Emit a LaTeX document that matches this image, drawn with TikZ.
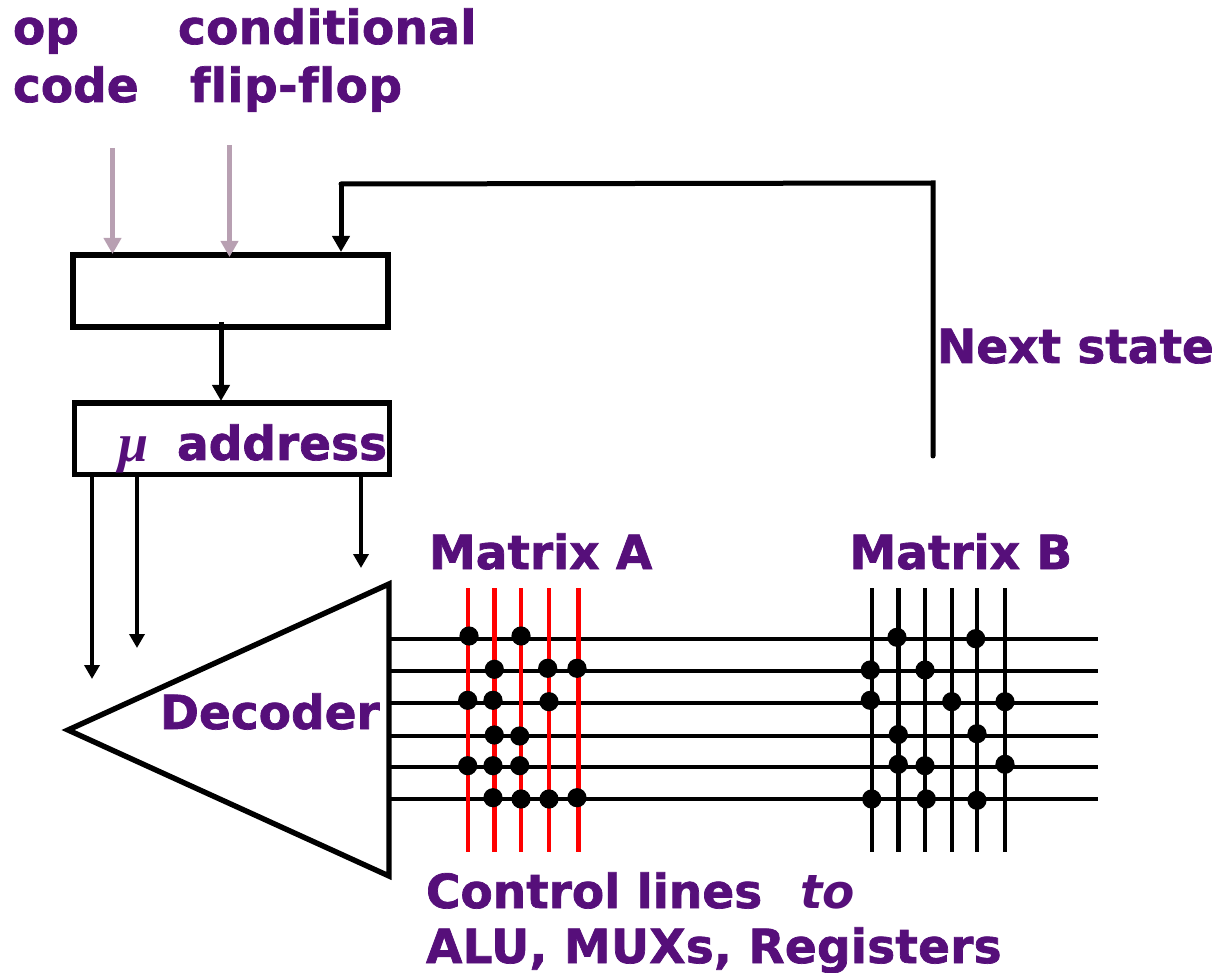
\documentclass[tikz,border=0pt]{standalone}
\usepackage{fontspec}
\setmainfont{DejaVu Sans}[Ligatures=NoCommon,BoldFeatures={FakeBold=1.5}]
\newfontfamily\mufont{Liberation Serif}
\usetikzlibrary{arrows.meta}
\definecolor{txtpurple}{HTML}{560F7A}
\definecolor{pinkline}{HTML}{B8A0B2}
\tikzset{
  lbl/.style={anchor=base west,inner sep=0pt,outer sep=0pt,text=txtpurple,font=\fontsize{47}{47}\selectfont\bfseries},
  boxn/.style={draw=black,line width=5.2pt,inner sep=0pt,outer sep=0pt,anchor=north west},
  heavy/.style={line width=5pt,draw=black},
  thinarrow/.style={line width=4pt,draw=black,-{Triangle[length=14pt,width=15pt]}},
  heavyarrow/.style={heavy,-{Triangle[length=16pt,width=17pt]}},
  pinkarrow/.style={line width=5.4pt,draw=pinkline,-{Triangle[length=16pt,width=17pt]}},
  ctl/.style={line width=4.4pt,draw=black},
  redcol/.style={line width=4.4pt,draw=red},
  blackcol/.style={line width=4.4pt,draw=black},
  dotm/.style={fill=black}
}
\begin{document}
\begin{tikzpicture}[x=1pt,y=-1pt]
\useasboundingbox (0,0) rectangle (1219,973);
% boxes
\node[boxn,minimum width=315pt,minimum height=72pt] (reg) at (73,255) {};
\node[boxn,minimum width=315pt,minimum height=71.5pt] (uaddr) at (74.5,403) {};
% triangle
\coordinate (tritop) at (389,584);
\coordinate (tribot) at (389,876);
\coordinate (trileft) at (68,730);
\draw[line width=5.4pt,line join=miter] (tritop) -- (tribot) -- (trileft) -- cycle;
% input arrows
\coordinate (opS) at (112.5,148); \coordinate (opE) at (112.5,254);
\coordinate (ffS) at (229.5,145); \coordinate (ffE) at (229.5,257);
\draw[pinkarrow] (opS) -- (opE);
\draw[pinkarrow] (ffS) -- (ffE);
% feedback
\coordinate (nsS) at (933,456);
\coordinate (nsC) at (933,183);
\coordinate (nsD) at (341,184);
\coordinate (nsE) at (341,252);
\draw[heavy,line cap=round] (nsS) -- (nsC) -- (nsD);
\draw[heavyarrow] (nsD) -- (nsE);
% reg to address
\coordinate (rmS) at (221,322); \coordinate (rmE) at (221,401);
\draw[heavyarrow] (rmS) -- (rmE);
% address to decoder
\coordinate (a1S) at (92,476); \coordinate (a1E) at (92,679);
\coordinate (a2S) at (137,476); \coordinate (a2E) at (137,648);
\coordinate (a3S) at (361,476); \coordinate (a3E) at (361,568);
\draw[thinarrow] (a1S) -- (a1E);
\draw[thinarrow] (a2S) -- (a2E);
\draw[thinarrow] (a3S) -- (a3E);
% control lines
\foreach \y in {639,670.7,703,736,767,799}{
  \draw[ctl] (390,\y) -- (1098,\y);
}
% matrix columns
\foreach \x in {467.7,494.3,521,549,578.3}{
  \draw[redcol] (\x,588) -- (\x,852);
}
\foreach \x in {871.7,898.3,925,951.7,977,1005}{
  \draw[blackcol] (\x,588) -- (\x,852);
}
% dots
\foreach \x/\y in {469/636,521/636,494.3/669.3,547.7/668.3,577/668.3,467.7/700.3,493/700.3,549/701.7,494.3/735,519.7/736,467.7/765.7,493/765.7,519.7/765.7,493/797.7,521/799,549/799,577/797.7,
897/637.3,975.7/638.7,870.3/670,925/670,870.3/700.3,951.7/701.7,1005/701.7,898.3/734.5,977/733.7,898.3/764.3,925/765.7,1005/764.3,871.7/799,926.3/799,977/800.3}{
  \fill[dotm] (\x,\y) circle (9.6pt);
}
% texts
\node[lbl] (t1) at (13,44) {op};
\node[lbl] (t2) at (13,102) {code};
\node[lbl] (t3) at (178,44) {\addfontfeatures{LetterSpace=0.6}conditional};
\node[lbl] (t4) at (190,102) {\addfontfeatures{LetterSpace=1.0}flip-flop};
\node[lbl] (t5) at (937,363) {Next state};
\node[lbl] (t6) at (177,460) {address};
\node[lbl,font=\fontsize{54}{54}\selectfont\mufont\bfseries\itshape] (t7) at (118,462) {μ};
\node[lbl] (t8) at (429,569) {Matrix A};
\node[lbl] (t9) at (849.5,569) {Matrix B};
\node[lbl] (t10) at (160,729) {Decoder};
\node[lbl] (t11) at (426,908) {Control lines};
\node[lbl,font=\fontsize{47}{47}\selectfont\bfseries\itshape] (t12) at (800,908) {to};
\node[lbl] (t13) at (426,963) {\addfontfeatures{LetterSpace=0.5}ALU, MUXs, Registers};
\end{tikzpicture}
\end{document}
